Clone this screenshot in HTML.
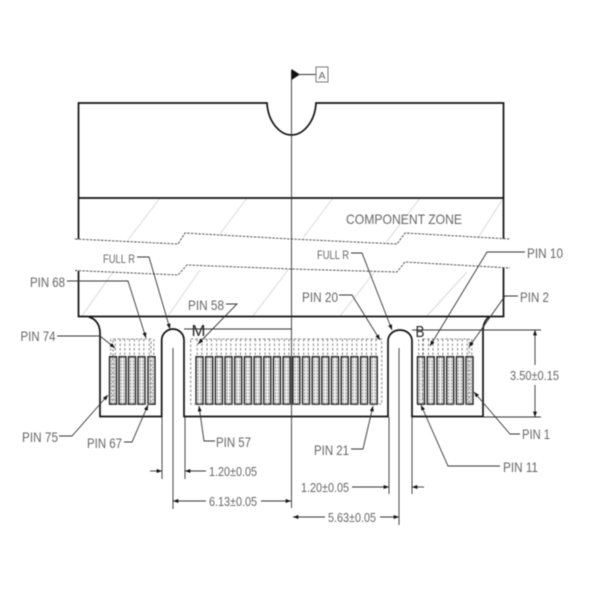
<!DOCTYPE html>
<html><head><meta charset="utf-8"><style>
html,body{margin:0;padding:0;background:#fff}
svg{display:block;filter:blur(0.45px)}
text{font-family:"Liberation Sans",sans-serif;font-size:13.5px;fill:#666}
.l{fill:none;stroke:#333;stroke-width:.9}
.t{fill:none;stroke:#111;stroke-width:1.7}
.d{fill:none;stroke:#666;stroke-width:.8}
.h{stroke:#d8d8d8;stroke-width:1;fill:none}
.b{fill:none;stroke:#444;stroke-width:.9;stroke-dasharray:2.5 1.2}
</style></head><body>
<svg width="600" height="600" viewBox="0 0 600 600" xmlns="http://www.w3.org/2000/svg">
<defs>
<marker id="a" viewBox="0 0 8 6" refX="8" refY="3" markerWidth="6" markerHeight="4" markerUnits="userSpaceOnUse" orient="auto-start-reverse"><path d="M0 0L8 3L0 6Z" fill="#111"/></marker>
<g id="p">
<line x1="1.2" y1="339" x2="1.2" y2="357" class="d" stroke-dasharray="2.5 2"/>
<line x1="5.8" y1="339" x2="5.8" y2="357" class="d" stroke-dasharray="2.5 2"/>
<rect x="0" y="356.7" width="7" height="47.5" fill="#f0f0f0" stroke="#111" stroke-width="1.3"/>
<line x1="2" y1="357" x2="2" y2="404" stroke="#888" stroke-width="1" stroke-dasharray="2 1.2"/>
<line x1="5" y1="357" x2="5" y2="404" stroke="#888" stroke-width="1" stroke-dasharray="2 1.2"/>
</g>
</defs>

<!-- hatches -->
<path class="h" d="M160 198L128 240M247 198L220 234M333 198L303 238M420 198L385 244M502 200L478 238M113 272L82 316M200 270L168 316M288 270L253 316M376 270L340 316M467 272L427 316"/>

<!-- outline -->
<path class="t" d="M78.5 239V103H267C268 122 280 135 291.5 135C303 135 315 122 316 103H503.5V239"/>
<path class="t" d="M78.5 198H503.5"/>
<path class="t" d="M78.5 271V316.5H503.5V268"/>
<path class="t" d="M89 317C96 319 100 325 100 333V416.5H161.7V340C161.7 334 167 329 173 329C179 329 184 334 184 340V416.5H388V341C388 335 393 330 400 330C407 330 412 335 412 341V416.5H483V331C483 325 485 320 489 317"/>

<!-- break lines -->
<path class="b" d="M75 239L178 244L185 233L291 239L397 244L405 233L510 239"/>
<path class="b" d="M75 270.5L178 275L187 265L291 269L397 272L405 262L510 268"/>

<!-- pads + pins -->
<use href="#p" x="109.5"/><use href="#p" x="119"/><use href="#p" x="128.5"/><use href="#p" x="138"/><use href="#p" x="148"/>
<use href="#p" x="196"/><use href="#p" x="205.7"/><use href="#p" x="215.4"/><use href="#p" x="225"/><use href="#p" x="234.7"/><use href="#p" x="244.4"/><use href="#p" x="254.1"/><use href="#p" x="263.8"/><use href="#p" x="273.4"/><use href="#p" x="283.1"/><use href="#p" x="292.8"/><use href="#p" x="302.5"/><use href="#p" x="312.2"/><use href="#p" x="321.8"/><use href="#p" x="331.5"/><use href="#p" x="341.2"/><use href="#p" x="350.9"/><use href="#p" x="360.6"/><use href="#p" x="370.2"/>
<use href="#p" x="417.5"/><use href="#p" x="427.2"/><use href="#p" x="437"/><use href="#p" x="446.7"/><use href="#p" x="456.4"/><use href="#p" x="466"/>
<rect x="113" y="339" width="38" height="65" class="d" stroke-dasharray="2.5 2"/>
<rect x="190.7" y="339" width="191" height="65" class="d" stroke-dasharray="2.5 2"/>
<rect x="422.7" y="339" width="46.5" height="65" class="d" stroke-dasharray="2.5 2"/>

<!-- center line & datum -->
<path class="l" d="M291.5 70V508"/>
<path d="M291.5 69V80L300 74.5Z" fill="#111"/>
<path class="l" d="M298 74.5H316"/>
<rect x="316" y="67" width="12" height="15" fill="#fff" stroke="#777" stroke-width="1"/>
<text x="318.5" y="79" style="font-size:10px" textLength="7" lengthAdjust="spacingAndGlyphs">A</text>

<!-- thin lines -->
<path class="l" d="M184 329H291.5M412 330H541M483 417H541"/>
<path class="l" d="M162 417V479M173 348V509M185 417V479M389 417V494M399 348V525M412 417V494"/>

<!-- leaders -->
<path class="l" marker-end="url(#a)" d="M57 336H100L115 348"/>
<path class="l" marker-end="url(#a)" d="M67 281H128L146 338"/>
<path class="l" marker-end="url(#a)" d="M137 257H149L170 329"/>
<path class="l" marker-end="url(#a)" d="M351 253H362L392 330"/>
<path class="l" marker-end="url(#a)" d="M525 252H487L430 346"/>
<path class="l" marker-end="url(#a)" d="M518 296H505L469 347"/>
<path class="l" marker-end="url(#a)" d="M339 295H352L380 340"/>
<path class="l" marker-end="url(#a)" d="M226 304H237L198 344"/>
<path class="l" marker-end="url(#a)" d="M215 441H204L199 406"/>
<path class="l" marker-end="url(#a)" d="M351 449H363L373 406"/>
<path class="l" marker-end="url(#a)" d="M59 436H72L108 395"/>
<path class="l" marker-end="url(#a)" d="M124 442H132L148 405"/>
<path class="l" marker-end="url(#a)" d="M520 434H510L474 392"/>
<path class="l" marker-end="url(#a)" d="M500 466H448L421 405"/>

<!-- dims -->
<path class="l" marker-end="url(#a)" d="M535 365V330"/>
<path class="l" marker-end="url(#a)" d="M535 385V417"/>
<path class="l" marker-end="url(#a)" d="M150 471H162"/>
<path class="l" marker-end="url(#a)" d="M206 471H185"/>
<path class="l" marker-end="url(#a)" d="M352 487H389"/>
<path class="l" marker-end="url(#a)" d="M424 487H412"/>
<path class="l" marker-end="url(#a)" d="M206 501H173"/>
<path class="l" marker-end="url(#a)" d="M261 501H291"/>
<path class="l" marker-end="url(#a)" d="M325 517H293"/>
<path class="l" marker-end="url(#a)" d="M380 517H399"/>

<!-- labels -->
<text x="346" y="224" style="font-size:14px" textLength="116" lengthAdjust="spacingAndGlyphs">COMPONENT ZONE</text>
<text x="103" y="263" style="font-size:12px" textLength="32" lengthAdjust="spacingAndGlyphs">FULL R</text>
<text x="317" y="259" style="font-size:12px" textLength="32" lengthAdjust="spacingAndGlyphs">FULL R</text>
<text x="527" y="258" textLength="36" lengthAdjust="spacingAndGlyphs">PIN 10</text>
<text x="520" y="302" textLength="29" lengthAdjust="spacingAndGlyphs">PIN 2</text>
<text x="302" y="302" textLength="36" lengthAdjust="spacingAndGlyphs">PIN 20</text>
<text x="188" y="310" textLength="36" lengthAdjust="spacingAndGlyphs">PIN 58</text>
<text x="30" y="287" textLength="35" lengthAdjust="spacingAndGlyphs">PIN 68</text>
<text x="20.5" y="341" textLength="35" lengthAdjust="spacingAndGlyphs">PIN 74</text>
<text x="22" y="442" textLength="36" lengthAdjust="spacingAndGlyphs">PIN 75</text>
<text x="87" y="448" textLength="35" lengthAdjust="spacingAndGlyphs">PIN 67</text>
<text x="216" y="447" textLength="35" lengthAdjust="spacingAndGlyphs">PIN 57</text>
<text x="314" y="455" textLength="35" lengthAdjust="spacingAndGlyphs">PIN 21</text>
<text x="522" y="439" textLength="28" lengthAdjust="spacingAndGlyphs">PIN 1</text>
<text x="503" y="472" textLength="35" lengthAdjust="spacingAndGlyphs">PIN 11</text>
<text x="510" y="380" style="font-size:12.5px" textLength="49" lengthAdjust="spacingAndGlyphs">3.50±0.15</text>
<text x="209" y="476" style="font-size:12.5px" textLength="48" lengthAdjust="spacingAndGlyphs">1.20±0.05</text>
<text x="301" y="492" style="font-size:12.5px" textLength="48" lengthAdjust="spacingAndGlyphs">1.20±0.05</text>
<text x="209" y="506" style="font-size:12.5px" textLength="48" lengthAdjust="spacingAndGlyphs">6.13±0.05</text>
<text x="328" y="522" style="font-size:12.5px" textLength="48" lengthAdjust="spacingAndGlyphs">5.63±0.05</text>
<text x="191.5" y="336" style="font-size:16px;fill:#222" textLength="14" lengthAdjust="spacingAndGlyphs">M</text>
<text x="415.5" y="337" style="font-size:16px;fill:#222" textLength="9" lengthAdjust="spacingAndGlyphs">B</text>
</svg>
</body></html>
